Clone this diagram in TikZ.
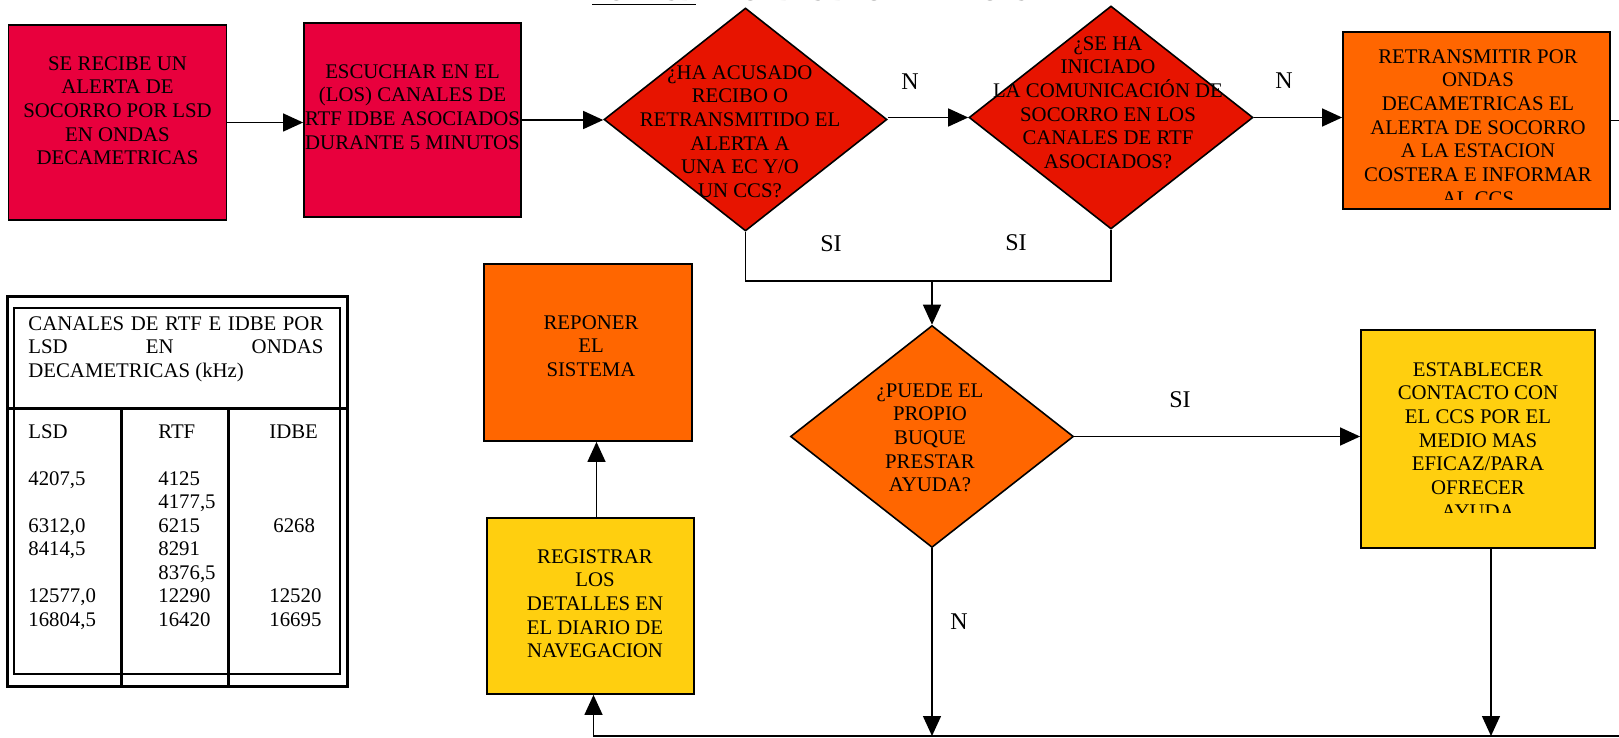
\documentclass[tikz,border=0pt]{standalone}
\usepackage{fontspec}
\setmainfont{Liberation Serif}
\usepackage{tikz}
\usetikzlibrary{arrows.meta,positioning,shapes.geometric}
\definecolor{crimson}{RGB}{232,0,61}
\definecolor{alarmred}{RGB}{231,20,0}
\definecolor{ddorange}{RGB}{255,102,0}
\definecolor{ddyellow}{RGB}{255,207,15}
\tikzset{
  procbox/.style={draw,rectangle,line width=0.9pt,inner sep=0pt},
  decision/.style={draw,diamond,line width=0.8pt,inner sep=0pt},
  txt/.style={align=center,inner sep=0pt,font=\fontsize{10.4}{11.85}\selectfont},
  tabtxt/.style={align=left,inner sep=0pt,anchor=north west,font=\fontsize{10.4}{11.75}\selectfont},
  lbl/.style={inner sep=0pt,font=\fontsize{12}{14}\selectfont},
  conn/.style={line width=0.7pt},
  rule/.style={line width=1.5pt}
}
\tikzstyle{arrow} = [conn,-{Triangle[length=10pt,width=9pt]}]
\begin{document}
\begin{tikzpicture}[x=0.5pt,y=-0.5pt]
  \useasboundingbox (0,0) rectangle (1619,738);
  \clip (0,0) rectangle (1619,738);
  \node[anchor=base west,inner sep=0pt,font=\bfseries\fontsize{12}{14}\selectfont] (title) at (592,1)
    {\underline{POR LSD} EN ONDAS DECAMETRICAS};

  \node[procbox,fill=crimson,minimum width=109pt,minimum height=97.5pt] (recibe) at (117.5,122.5) {};
  \node[procbox,fill=crimson,minimum width=108.5pt,minimum height=97pt] (escuchar) at (412.5,120) {};
  \node[decision,fill=alarmred,minimum width=141.5pt,minimum height=111.5pt] (acusado) at (745.5,119.5) {};
  \node[decision,fill=alarmred,minimum width=142pt,minimum height=111.5pt] (iniciado) at (1111,117.5) {};
  \node[procbox,fill=ddorange,minimum width=133.5pt,minimum height=88.5pt] (retrans) at (1476.5,120.5) {};
  \node[procbox,fill=ddorange,minimum width=104pt,minimum height=88.5pt] (reponer) at (588,352.5) {};
  \node[decision,fill=ddorange,minimum width=141.5pt,minimum height=111pt] (puede) at (932,436.5) {};
  \node[procbox,fill=ddyellow,minimum width=117pt,minimum height=109pt] (contacto) at (1478,439) {};
  \node[procbox,fill=ddyellow,minimum width=103.5pt,minimum height=88pt] (registrar) at (590.5,606) {};

  \node[txt,anchor=north] (recibe-t) at (117.5,56)
    {SE RECIBE UN\\ALERTA DE\\SOCORRO POR LSD\\EN ONDAS\\DECAMETRICAS};
  \node[txt,anchor=north] (escuchar-t) at (412.5,64)
    {ESCUCHAR EN EL\\(LOS) CANALES DE\\RTF IDBE ASOCIADOS\\DURANTE 5 MINUTOS};
  \node[txt,anchor=north] (acusado-t) at (740,65)
    {¿HA ACUSADO\\RECIBO O\\RETRANSMITIDO EL\\ALERTA A\\UNA EC Y/O\\UN CCS?};
  \node[txt,anchor=north] (iniciado-t) at (1108,36)
    {¿SE HA\\INICIADO\\LA COMUNICACIÓN DE\\SOCORRO EN LOS\\CANALES DE RTF\\ASOCIADOS?};
  \begin{scope}
    \clip (1343,32) rectangle (1610,200);
    \node[txt,anchor=north] (retrans-t) at (1478,49)
      {RETRANSMITIR POR\\ONDAS\\DECAMETRICAS EL\\ALERTA DE SOCORRO\\A LA ESTACION\\COSTERA E INFORMAR\\AL CCS};
  \end{scope}
  \node[txt,anchor=north] (reponer-t) at (591,315) {REPONER\\EL\\SISTEMA};
  \node[txt,anchor=north] (puede-t) at (930,383) {¿PUEDE EL\\PROPIO\\BUQUE\\PRESTAR\\AYUDA?};
  \begin{scope}
    \clip (1361,330) rectangle (1595,512);
    \node[txt,anchor=north] (contacto-t) at (1478,362)
      {ESTABLECER\\CONTACTO CON\\EL CCS POR EL\\MEDIO MAS\\EFICAZ/PARA\\OFRECER\\AYUDA};
  \end{scope}
  \node[txt,anchor=north] (registrar-t) at (595,549)
    {REGISTRAR\\LOS\\DETALLES EN\\EL DIARIO DE\\NAVEGACION};

  \coordinate (merge) at (932,281);
  \coordinate (out-r) at (1619,120.5);
  \coordinate (out-b) at (1619,736);
  \coordinate (join-n) at (932,736);
  \coordinate (join-c) at (1491,736);

  \draw[arrow] (recibe.east) -- (recibe.east -| escuchar.west);
  \draw[arrow] (escuchar.east) -- (escuchar.east -| acusado.west);
  \draw[arrow] (iniciado.west -| acusado.east) -- (iniciado.west);
  \draw[arrow] (iniciado.east) -- (iniciado.east -| retrans.west);
  \draw[conn] (retrans.east) -- (out-r);
  \draw[conn] (acusado.south) |- (merge) -| (iniciado.south);
  \draw[arrow] (merge) -- (puede.north);
  \draw[arrow] (puede.east) -- (puede.east -| contacto.west);
  \draw[arrow] (puede.south) -- (join-n);
  \draw[arrow] ([xshift=6.5pt]contacto.south) -- (join-c);
  \draw[arrow] (out-b) -| ([xshift=1.5pt]registrar.south);
  \draw[arrow] ([xshift=3pt]registrar.north) -- ([xshift=3pt]registrar.north |- reponer.south);

  \node[lbl] (n-1) at (910,82) {N};
  \node[lbl] (n-2) at (1284,81) {N};
  \node[lbl] (si-1) at (831,244) {SI};
  \node[lbl] (si-2) at (1016,243) {SI};
  \node[lbl] (si-3) at (1180,400) {SI};
  \node[lbl] (n-3) at (959,622) {N};

  \draw[line width=1.5pt] (7,296) rectangle (347,686);
  \draw[line width=1pt] (14,308) rectangle (340,674);
  \draw[rule] (7,408) -- (347,408);
  \draw[rule] (121,408) -- (121,686);
  \draw[rule] (228,408) -- (228,686);
  \node[tabtxt] (head) at (28,316)
    {\makebox[147.5pt][s]{CANALES DE RTF E IDBE POR}\\
     \makebox[147.5pt][s]{LSD\hfill EN\hfill ONDAS}\\
     DECAMETRICAS (kHz)};
  \node[tabtxt] (col-lsd) at (28,424)
    {LSD\\ \mbox{}\\ 4207,5\\ \mbox{}\\ 6312,0\\ 8414,5\\ \mbox{}\\ 12577,0\\ 16804,5};
  \node[tabtxt] (col-rtf) at (158,424)
    {RTF\\ \mbox{}\\ 4125\\ 4177,5\\ 6215\\ 8291\\ 8376,5\\ 12290\\ 16420};
  \node[tabtxt] (col-idbe) at (269,424)
    {IDBE\\ \mbox{}\\ \mbox{}\\ \mbox{}\\ \kern2pt 6268\\ \mbox{}\\ \mbox{}\\ 12520\\ 16695};
\end{tikzpicture}
\end{document}
